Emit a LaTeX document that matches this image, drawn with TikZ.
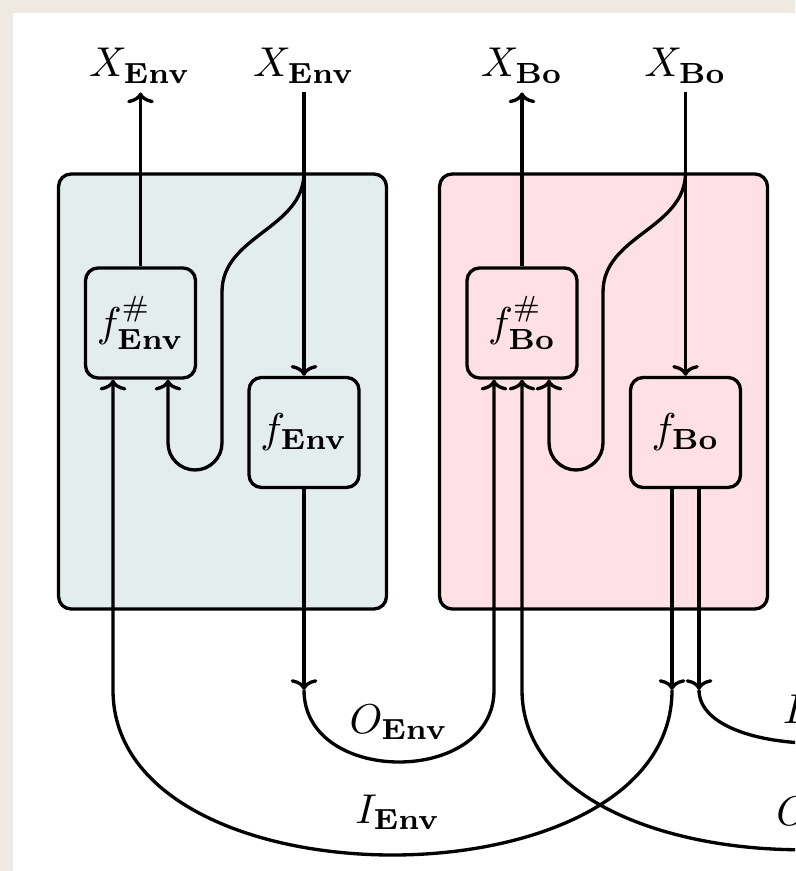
\documentclass[tikz,border=0pt]{standalone}
\usepackage{amsmath,amssymb}
\usepackage{tikz}
\usetikzlibrary{arrows.meta, calc}

\definecolor{paper}{RGB}{238,234,226}
\definecolor{envfill}{RGB}{228,237,238}
\definecolor{bofill}{RGB}{255,224,230}

\begin{document}
\begin{tikzpicture}[
    x=0.24pt, y=-0.24pt,
    panel/.style={draw, thick, rounded corners=3pt, minimum width=78.7pt, minimum height=104.4pt},
    fbox/.style={draw, thick, rounded corners=3pt, minimum size=26.4pt, inner sep=0pt},
    lbl/.style={inner sep=2pt, anchor=base},
    wire/.style={draw, thick},
    >={Computer Modern Rightarrow[width=6.4pt,length=2.6pt]}
]
    \useasboundingbox (0,0) rectangle (795,871);
    \clip (0,0) rectangle (795,871);
    \fill[paper] (0,0) rectangle (795,871);
    \fill[white] (13,13) rectangle (795,871);

    % the two systems
    \node[panel, fill=envfill] (envP) at (222.5,391.5) {};
    \node[panel, fill=bofill]  (boP)  at (603.5,391.5) {};

    \node[fbox] (fsEnv) at (140.5,323)  {$f^{\#}_{\mathbf{Env}}$};
    \node[fbox] (fEnv)  at (304,432.5)  {$f_{\mathbf{Env}}$};
    \node[fbox] (fsBo)  at (522,323)    {$f^{\#}_{\mathbf{Bo}}$};
    \node[fbox] (fBo)   at (685.5,432.5) {$f_{\mathbf{Bo}}$};

    % labels
    \node[lbl] (xEnvOut) at (140,77)  {$X_{\mathbf{Env}}$};
    \node[lbl] (xEnvIn)  at (304,77)  {$X_{\mathbf{Env}}$};
    \node[lbl] (xBoOut)  at (522,77)  {$X_{\mathbf{Bo}}$};
    \node[lbl] (xBoIn)   at (685.5,77) {$X_{\mathbf{Bo}}$};
    \node[lbl] (oEnv) at (399,733) {$O_{\mathbf{Env}}$};
    \node[lbl] (iEnv) at (398,823) {$I_{\mathbf{Env}}$};
    \node[lbl] (iBo)  at (816,723) {$I_{\mathbf{Bo}}$};
    \node[lbl] (oBo)  at (816,825) {$O_{\mathbf{Bo}}$};

    % ports and bends
    \coordinate (low)  at (0,690);
    \coordinate (loop) at (0,470);
    \coordinate (inEnvI)  at ($(fsEnv.south)+(-27.5,0)$);
    \coordinate (inEnvX)  at ($(fsEnv.south)+(27.5,0)$);
    \coordinate (inBoO)   at ($(fsBo.south)+(-28,0)$);
    \coordinate (inBoX)   at ($(fsBo.south)+(27,0)$);
    \coordinate (outBoI)  at ($(fBo.south)+(-13.5,0)$);
    \coordinate (outBoO)  at ($(fBo.south)+(13.5,0)$);
    \coordinate (envDrop) at (222,292);
    \coordinate (boDrop)  at (603,292);
    \coordinate (iBoEnd)   at (934,690);
    \coordinate (oBoStart) at (1080,690);

    % Env
    \draw[wire,->] (fsEnv.north) -- (fsEnv.north |- xEnvOut.south);
    \draw[wire,->] (fEnv |- xEnvIn.south) -- (fEnv.north);
    \draw[wire] (envP.north -| fEnv) to[out=-90,in=90] (envDrop);
    \draw[wire,->,rounded corners=6.5pt] (envDrop) -- (envDrop |- loop) -- (inEnvX |- loop) -- (inEnvX);

    % Bo
    \draw[wire,->] (fsBo.north) -- (fsBo.north |- xBoOut.south);
    \draw[wire,->] (fBo |- xBoIn.south) -- (fBo.north);
    \draw[wire] (boP.north -| fBo) to[out=-90,in=90] (boDrop);
    \draw[wire,->,rounded corners=6.5pt] (boDrop) -- (boDrop |- loop) -- (inBoX |- loop) -- (inBoX);

    % O_Env
    \draw[wire,->] (fEnv.south) -- (fEnv |- low);
    \draw[wire,->] (fEnv |- low) .. controls +(0,96) and +(0,96) .. (inBoO |- low) -- (inBoO);

    % I_Env
    \draw[wire,->] (outBoI) -- (outBoI |- low);
    \draw[wire,->] (outBoI |- low) .. controls +(0,220) and +(0,220) .. (inEnvI |- low) -- (inEnvI);

    % I_Bo and O_Bo
    \draw[wire,->] (outBoO) -- (outBoO |- low);
    \draw[wire] (outBoO |- low) .. controls +(0,71) and +(0,71) .. (iBoEnd);
    \draw[wire,->] (oBoStart) .. controls +(0,213) and +(0,213) .. (fsBo |- low) -- (fsBo.south);
\end{tikzpicture}
\end{document}
